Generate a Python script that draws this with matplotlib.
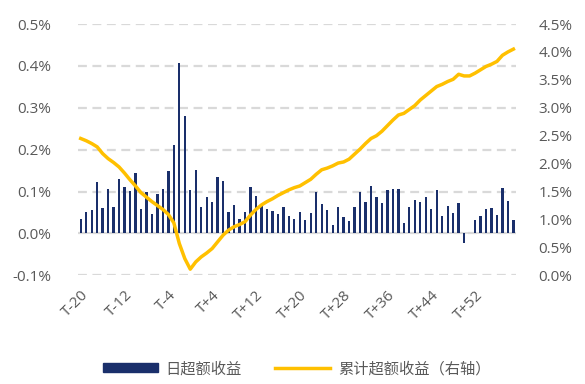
import matplotlib
matplotlib.use("Agg")
import matplotlib.pyplot as plt
from matplotlib.ticker import FuncFormatter, FixedLocator
from matplotlib.lines import Line2D
from matplotlib.patches import Patch
import matplotlib.transforms as mtransforms

plt.rcParams['font.family'] = ['Open Sans', 'Noto Sans CJK SC', 'DejaVu Sans']

day_offsets = list(range(-20, 60))
categories = [f"T{d}" if d < 0 else f"T+{d}" for d in day_offsets]

daily_excess = [
    0.035, 0.052, 0.056, 0.122, 0.061, 0.106, 0.062, 0.130, 0.111, 0.101,
    0.145, 0.059, 0.099, 0.046, 0.094, 0.106, 0.150, 0.212, 0.406, 0.280,
    0.103, 0.152, 0.064, 0.086, 0.075, 0.135, 0.126, 0.052, 0.069, 0.034,
    0.052, 0.110, 0.089, 0.071, 0.059, 0.054, 0.047, 0.063, 0.041, 0.034,
    0.051, 0.032, 0.049, 0.100, 0.070, 0.056, 0.021, 0.062, 0.040, 0.029,
    0.062, 0.099, 0.075, 0.113, 0.088, 0.072, 0.104, 0.107, 0.106, 0.025,
    0.062, 0.080, 0.074, 0.086, 0.058, 0.103, 0.041, 0.065, 0.048, 0.073,
    -0.024, 0.000, 0.032, 0.042, 0.058, 0.060, 0.045, 0.109, 0.078, 0.033,
]

cumulative_excess = [
    2.45, 2.41, 2.36, 2.30, 2.18, 2.09, 2.02, 1.94, 1.83, 1.71,
    1.60, 1.48, 1.40, 1.32, 1.25, 1.18, 1.09, 0.94, 0.57, 0.30,
    0.11, 0.24, 0.33, 0.40, 0.48, 0.60, 0.72, 0.81, 0.87, 0.91,
    0.96, 1.08, 1.18, 1.26, 1.32, 1.37, 1.43, 1.48, 1.53, 1.57,
    1.60, 1.66, 1.72, 1.81, 1.89, 1.92, 1.96, 2.01, 2.03, 2.08,
    2.17, 2.26, 2.36, 2.45, 2.50, 2.58, 2.68, 2.78, 2.87, 2.90,
    2.97, 3.04, 3.14, 3.22, 3.30, 3.38, 3.42, 3.47, 3.51, 3.60,
    3.57, 3.57, 3.62, 3.68, 3.74, 3.78, 3.83, 3.94, 4.00, 4.05,
]

left_ticks = [-0.1, 0.0, 0.1, 0.2, 0.3, 0.4, 0.5]
right_ticks = [0.0, 0.5, 1.0, 1.5, 2.0, 2.5, 3.0, 3.5, 4.0, 4.5]
label_step = 8

bar_color = '#1A2F6B'
line_color = '#FFC000'
text_color = '#595959'

fig = plt.figure(figsize=(5.85, 3.84), dpi=100)
ax = fig.add_axes([0.1333, 0.283, 0.749, 0.6545])
x = list(range(len(categories)))
ax.bar(x, daily_excess, width=0.42, color=bar_color, zorder=3)
ax.set_xlim(-0.5, len(categories) - 0.5)
ax.set_ylim(-0.1, 0.5)
ax.yaxis.set_major_locator(FixedLocator(left_ticks))
ax.yaxis.set_major_formatter(FuncFormatter(lambda v, p: f"{v:.1f}%"))
ax.grid(axis='y', color='#D9D9D9', linestyle=(0, (4, 2.5)), linewidth=1.6, zorder=0)
ax.axhline(0, color='#D9D9D9', linewidth=1.2, zorder=1)
ax.set_xticks(x[::label_step])
ax.set_xticklabels(categories[::label_step], rotation=45, ha='right',
                   rotation_mode='anchor', fontsize=11, color=text_color)
offset = mtransforms.ScaledTranslation(5 / 100, 0, fig.dpi_scale_trans)
for lbl in ax.get_xticklabels():
    lbl.set_transform(lbl.get_transform() + offset)
for s in ax.spines.values():
    s.set_visible(False)
ax.tick_params(axis='both', length=0, colors=text_color, labelsize=11)
ax.tick_params(axis='y', pad=19)
ax.tick_params(axis='x', pad=9)

ax2 = ax.twinx()
ax2.plot(x, cumulative_excess, color=line_color, linewidth=2.5, zorder=4,
         solid_joinstyle='round')
ax2.set_ylim(0.0, 4.5)
ax2.yaxis.set_major_locator(FixedLocator(right_ticks))
ax2.yaxis.set_major_formatter(FuncFormatter(lambda v, p: f"{v:.1f}%"))
for s in ax2.spines.values():
    s.set_visible(False)
ax2.tick_params(axis='y', length=0, colors=text_color, labelsize=11, pad=16)

handles = [Patch(color=bar_color, label='日超额收益'),
           Line2D([0], [0], color=line_color, linewidth=2.5, label='累计超额收益（右轴）')]
fig.legend(handles=handles, loc='center', bbox_to_anchor=(0.507, 0.04), ncol=2,
           frameon=False, labelcolor=text_color,
           handlelength=3.6, handleheight=0.55, columnspacing=2.2, handletextpad=0.5,
           prop={'family': ['Noto Sans CJK SC', 'DejaVu Sans'], 'size': 11})

fig.savefig('out.png', dpi=100)
